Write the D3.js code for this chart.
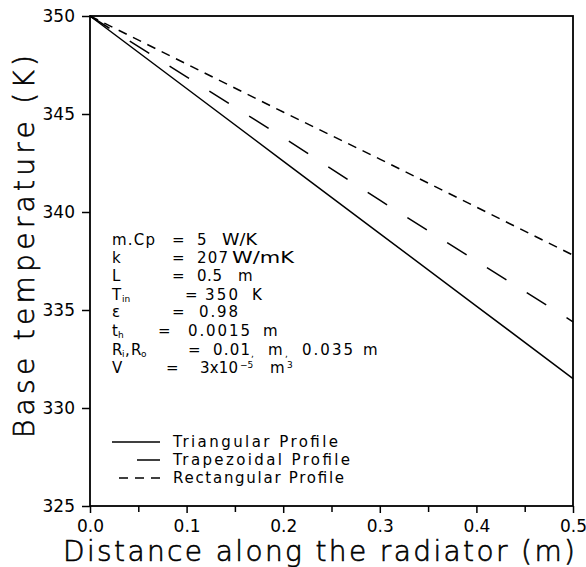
<!DOCTYPE html>
<html>
<head>
<meta charset="utf-8">
<script src="https://cdn.jsdelivr.net/npm/d3@7"></script>
<style>
  html, body { margin: 0; padding: 0; background: #fff; }
  svg { display: block; }
  text { font-family: "DejaVu Sans", sans-serif; fill: #000; }
  .light { font-weight: 200; stroke: #000; stroke-width: 0.6; }
</style>
</head>
<body>
<svg id="chart" width="586" height="567"></svg>
<script>
// ---- data ----
const distance    = [0.0, 0.1, 0.2, 0.3, 0.4, 0.5];
const triangular  = [350, 346.3, 342.6, 338.9, 335.2, 331.5];
const trapezoidal = [350, 346.9, 343.8, 340.6, 337.5, 334.4];
const rectangular = [350, 347.55, 345.1, 342.7, 340.25, 337.8];
const seriesNames = ["Triangular Profile", "Trapezoidal Profile", "Rectangular Profile"];
const xMajorTicks = [0.0, 0.1, 0.2, 0.3, 0.4, 0.5];
const xMinorTicks = [0.05, 0.15, 0.25, 0.35, 0.45];
const yTicks      = [325, 330, 335, 340, 345, 350];
const xTitle = "Distance along the radiator (m)";
const yTitle = "Base temperature (K)";
// parameter annotation: [text, kind(0 normal, 1 subscript, 2 superscript), x, width, stretch glyphs]
const paramRows = [
  [["m.Cp",0,112,43], ["=",0,172], ["5",0,197], ["W/K",0,222,35,true]],
  [["k",0,112], ["=",0,172], ["207",0,197,31], ["W/mK",0,232,62,true]],
  [["L",0,112], ["=",0,172], ["0.5",0,197,25], ["m",0,238]],
  [["T",0,112], ["in",1,122], ["=",0,185], ["350",0,205,33], ["K",0,252]],
  [["ε",0,112], ["=",0,172], ["0.98",0,199,39]],
  [["t",0,112], ["h",1,118], ["=",0,158], ["0.0015",0,188,62], ["m",0,263]],
  [["R",0,112], ["i",1,122], [",",0,125], ["R",0,131], ["o",1,141], ["=",0,188],
   ["0.01",0,213,37], [",",1,251], ["m",0,268], [",",1,285], ["0.035",0,302,51], ["m",0,363]],
  [["V",0,112], ["=",0,166], ["3x10",0,200,38], ["−5",2,240], ["m",0,270], ["3",2,287]]
];

// ---- layout ----
const svg = d3.select("#chart");
const mLeft = 90, mRight = 573, mTop = 16, mBottom = 506;
const x = d3.scaleLinear().domain([0, 0.5]).range([mLeft, mRight]);
const y = d3.scaleLinear().domain([325, 350]).range([mBottom, mTop]);

// frame
svg.append("rect").attr("x", mLeft).attr("y", mTop)
  .attr("width", mRight - mLeft).attr("height", mBottom - mTop)
  .attr("fill", "none").attr("stroke", "#000").attr("stroke-width", 1.8);

// x axis
const xAxis = svg.append("g").attr("transform", `translate(0,${mBottom})`)
  .call(d3.axisBottom(x).tickValues(xMajorTicks).tickSize(7).tickPadding(7)
        .tickFormat(d3.format(".1f")));
xAxis.select(".domain").remove();
xAxis.selectAll(".tick line").attr("stroke-width", 1.5);
xAxis.selectAll("text").attr("font-size", 17).attr("font-family", "DejaVu Sans");
svg.append("g").attr("transform", `translate(0,${mBottom})`)
  .call(d3.axisBottom(x).tickValues(xMinorTicks).tickSize(6).tickFormat(""))
  .call(g => g.select(".domain").remove())
  .selectAll(".tick line").attr("stroke-width", 1.5);

// y axis
const yAxis = svg.append("g").attr("transform", `translate(${mLeft},0)`)
  .call(d3.axisLeft(y).tickValues(yTicks).tickSize(8).tickPadding(7).tickFormat(d3.format("d")));
yAxis.select(".domain").remove();
yAxis.selectAll(".tick line").attr("stroke-width", 1.5);
yAxis.selectAll("text").attr("font-size", 17).attr("font-family", "DejaVu Sans");

// titles
svg.append("text").attr("class", "light").attr("x", 63).attr("y", 561)
  .attr("font-size", 28).attr("textLength", 512).attr("lengthAdjust", "spacing")
  .text(xTitle);
svg.append("text").attr("class", "light").attr("transform", "translate(34,438) rotate(-90)")
  .attr("font-size", 28).attr("textLength", 383).attr("lengthAdjust", "spacing")
  .text(yTitle);

// lines
const line = d3.line().x((d, i) => x(distance[i])).y(d => y(d));
const dashes = [null, "23,24", "9,7"];
[triangular, trapezoidal, rectangular].forEach((s, k) => {
  svg.append("path").datum(s).attr("d", line)
    .attr("fill", "none").attr("stroke", "#000").attr("stroke-width", 1.5)
    .attr("stroke-dasharray", dashes[k]);
});

// legend
const legY = [442, 460, 478];
const legStart = [112, 137, 119];
seriesNames.forEach((name, k) => {
  svg.append("line").attr("x1", 160).attr("x2", legStart[k])
    .attr("y1", legY[k]).attr("y2", legY[k])
    .attr("stroke", "#000").attr("stroke-width", 1.5)
    .attr("stroke-dasharray", dashes[k]);
  svg.append("text").attr("x", 173).attr("y", legY[k] + 5)
    .attr("font-size", 15).attr("textLength", 165 + (k === 0 ? 0 : (k === 1 ? 12 : 6)))
    .attr("lengthAdjust", "spacing").text(name);
});

// parameter block
const rowY = [245, 263, 281, 300, 317, 336, 355, 373];
paramRows.forEach((pieces, r) => {
  pieces.forEach(([s, kind, px, w, stretch]) => {
    const t = svg.append("text").text(s)
      .attr("x", px)
      .attr("y", kind === 1 ? rowY[r] + 2 : (kind === 2 ? rowY[r] - 5 : rowY[r]))
      .attr("font-size", kind ? 9 : 15);
    if (w) t.attr("textLength", w).attr("lengthAdjust", stretch ? "spacingAndGlyphs" : "spacing");
  });
});
</script>
</body>
</html>
